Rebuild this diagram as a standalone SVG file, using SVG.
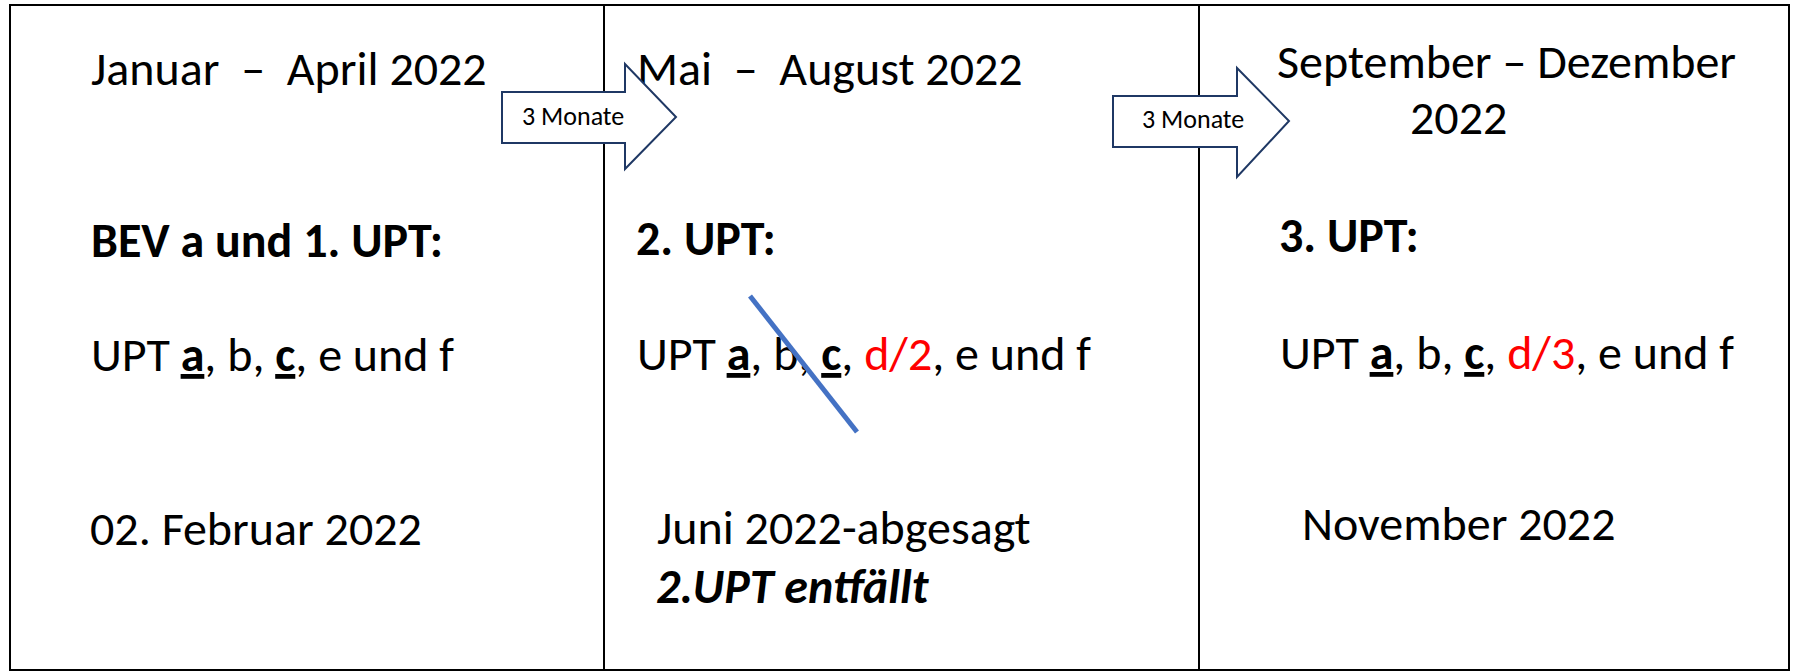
<svg xmlns="http://www.w3.org/2000/svg" width="1801" height="672" viewBox="0 0 1801 672">
<style>
  .t { font-family: Carlito, Lato, "Liberation Sans", sans-serif; font-size: 48px; fill: #000; }
  .b { font-weight: bold; }
  .bi { font-weight: bold; font-style: italic; }
  .u { font-weight: bold; text-decoration: underline; }
  .red { fill: #FF0000; }
  .lbl { font-family: Carlito, Lato, "Liberation Sans", sans-serif; font-size: 26px; fill: #000; }
  .frame { fill: none; stroke: #000; stroke-width: 2; }
  .arrow { fill: #fff; stroke: #1F3864; stroke-width: 2; stroke-linejoin: miter; }
</style>
<rect width="1801" height="672" fill="#fff"/>
<g id="table">
  <rect class="frame" x="10" y="5" width="1779" height="665"/>
  <line class="frame" x1="604" y1="5" x2="604" y2="670"/>
  <line class="frame" x1="1199" y1="5" x2="1199" y2="670"/>
</g>
<g id="col1">
  <text class="t" x="91" y="85" xml:space="preserve">Januar  –  April 2022</text>
  <text class="t b" x="91" y="257">BEV a und 1. UPT:</text>
  <text class="t" x="91" y="371">UPT <tspan class="u">a</tspan>, b, <tspan class="u">c</tspan>, e und f</text>
  <text class="t" x="90" y="545">02. Februar 2022</text>
</g>
<g id="col2">
  <text class="t" x="637" y="85" xml:space="preserve">Mai  –  August 2022</text>
  <text class="t b" x="636" y="255">2. UPT:</text>
  <text class="t" x="637" y="370">UPT <tspan class="u">a</tspan>, b, <tspan class="u">c</tspan>, <tspan class="red">d/2</tspan>, e und f</text>
  <text class="t" x="657" y="544">Juni 2022-abgesagt</text>
  <text class="t bi" x="656" y="603">2.UPT entfällt</text>
</g>
<g id="strike">
  <line x1="750" y1="296" x2="857" y2="432" stroke="#4472C4" stroke-width="5"/>
</g>
<g id="col3">
  <text class="t" x="1277" y="78">September – Dezember</text>
  <text class="t" x="1410" y="134">2022</text>
  <text class="t b" x="1279" y="252">3. UPT:</text>
  <text class="t" x="1280" y="369">UPT <tspan class="u">a</tspan>, b, <tspan class="u">c</tspan>, <tspan class="red">d/3</tspan>, e und f</text>
  <text class="t" x="1302" y="540">November 2022</text>
</g>
<g id="connectors">
  <g id="arrow1">
    <path class="arrow" d="M502,92 L625,92 L625,64 L676,117 L625,169 L625,143 L502,143 Z"/>
    <text class="lbl" x="522" y="125">3 Monate</text>
  </g>
  <g id="arrow2">
    <path class="arrow" d="M1113,96 L1237,96 L1237,68 L1289,121 L1237,177 L1237,147 L1113,147 Z"/>
    <text class="lbl" x="1142" y="128">3 Monate</text>
  </g>
</g>
</svg>
